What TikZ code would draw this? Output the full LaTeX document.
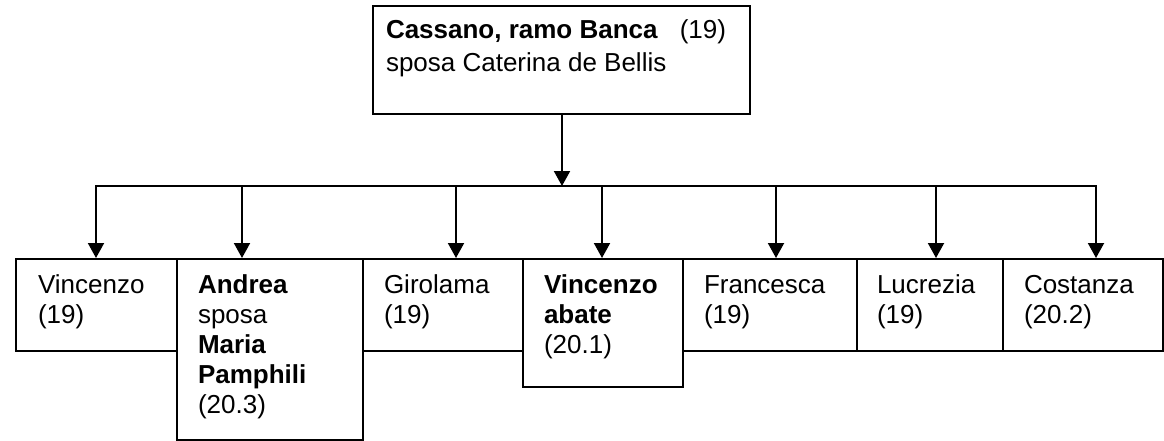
\documentclass[tikz,border=0pt]{standalone}
\usepackage{fontspec}
\setmainfont{Liberation Sans}
\usetikzlibrary{arrows.meta}
\newcommand{\txtlines}[1]{\parbox[t]{420pt}{\raggedright #1}}
\begin{document}
\begin{tikzpicture}[x=1pt,y=-1pt,line width=2pt,
  box/.style={draw,rectangle,anchor=north west,inner sep=0pt,line width=2pt},
  txt/.style={anchor=base west,inner sep=0pt,font=\fontsize{26}{30}\selectfont},
  toptxt/.style={anchor=base west,inner sep=0pt,font=\fontsize{26}{33}\selectfont},
  arr/.style={-{Triangle[length=15pt,width=16pt]},line width=2pt}]
\useasboundingbox (0,0) rectangle (1164,441);
% boxes
\node[box,minimum width=377pt,minimum height=108pt] (top) at (372,5) {};
\node[box,minimum width=161pt,minimum height=92pt] (c1) at (15,258) {};
\node[box,minimum width=186pt,minimum height=181pt] (c2) at (176,258) {};
\node[box,minimum width=160pt,minimum height=92pt] (c3) at (362,258) {};
\node[box,minimum width=160pt,minimum height=128pt] (c4) at (522,258) {};
\node[box,minimum width=174pt,minimum height=92pt] (c5) at (682,258) {};
\node[box,minimum width=146pt,minimum height=92pt] (c6) at (856,258) {};
\node[box,minimum width=160pt,minimum height=92pt] (c7) at (1002,258) {};
% texts
\node[toptxt] (tt) at (385,39) {\txtlines{\textbf{Cassano, ramo Banca}\hspace{22pt}(19)\\sposa Caterina de Bellis}};
\node[txt] (t1) at (37,293) {\txtlines{Vincenzo\\(19)}};
\node[txt] (t2) at (197,293) {\txtlines{\textbf{Andrea}\\sposa\\\textbf{Maria}\\\textbf{Pamphili}\\(20.3)}};
\node[txt] (t3) at (383,293) {\txtlines{Girolama\\(19)}};
\node[txt] (t4) at (543,293) {\txtlines{\textbf{Vincenzo}\\\textbf{abate}\\(20.1)}};
\node[txt] (t5) at (703,293) {\txtlines{Francesca\\(19)}};
\node[txt] (t6) at (876,293) {\txtlines{Lucrezia\\(19)}};
\node[txt] (t7) at (1023,293) {\txtlines{Costanza\\(20.2)}};
% connectors
\coordinate (hub) at (562,186);
\draw[arr] (hub |- top.south) -- (hub);
\coordinate (b1) at (96,186);
\coordinate (b2) at (242,186);
\coordinate (b3) at (456,186);
\coordinate (b4) at (602,186);
\coordinate (b5) at (776,186);
\coordinate (b6) at (936,186);
\coordinate (b7) at (1096,186);
\draw[line cap=rect] (b1) -- (b7);
\draw[arr] (b1) -- (b1 |- c1.north);
\draw[arr] (b2) -- (b2 |- c2.north);
\draw[arr] (b3) -- (b3 |- c3.north);
\draw[arr] (b4) -- (b4 |- c4.north);
\draw[arr] (b5) -- (b5 |- c5.north);
\draw[arr] (b6) -- (b6 |- c6.north);
\draw[arr] (b7) -- (b7 |- c7.north);
\end{tikzpicture}
\end{document}
